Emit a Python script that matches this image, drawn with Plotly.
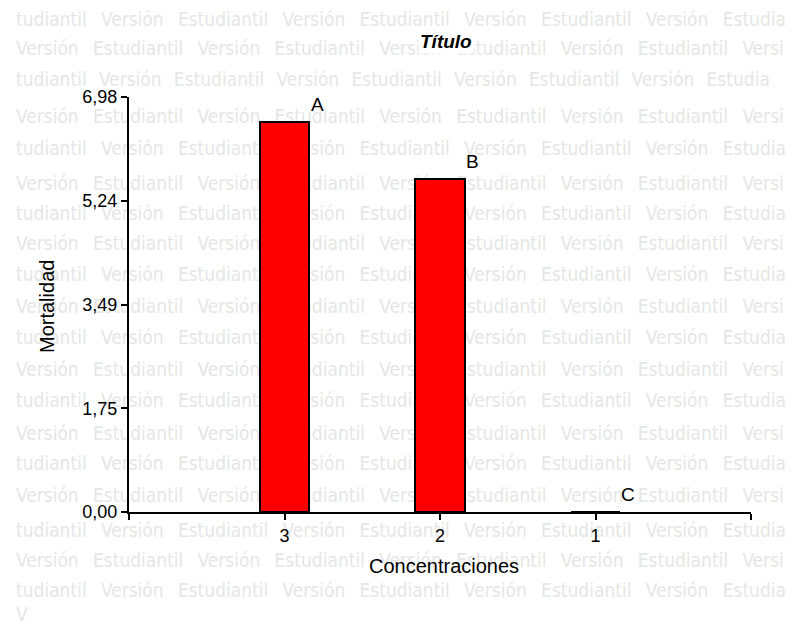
import plotly.graph_objects as go

# ---- data ----
categories = ["3", "2", "1"]
mortalidad = [6.56, 5.60, 0.0]
letters = ["A", "B", "C"]
y_max = 6.98
y_tick_labels = ["0,00", "1,75", "3,49", "5,24", "6,98"]

# ---- geometry (page has an 8px body margin) ----
W, H = 803, 625
OFF = 8
PL, PR, PT, PB = 129, 751, 97, 512          # plot area in page pixels
PW, PH = PR - PL, PB - PT
ML, MT = PL - OFF, PT - OFF
MR, MB = W - ML - PW, H - MT - PH


def px_x(px):
    return (px - PL) / PW


def px_y(py):
    return (PB - py) / PH


x_pos = [i + 1 for i in range(len(categories))]

fig = go.Figure()
fig.add_trace(go.Bar(
    x=x_pos, y=mortalidad, width=0.32,
    marker=dict(color="#ff0000", line=dict(color="black", width=2)),
    hoverinfo="skip",
))

# letters above bars
for xi, v, lab in zip(x_pos, mortalidad, letters):
    fig.add_annotation(x=xi + 0.21, y=v + 0.08, text=lab, showarrow=False,
                       xanchor="center", yanchor="bottom",
                       font=dict(family="Liberation Sans, Arial", size=19, color="black"))

# watermark rows (drawn below the bars)
NB = "\u00a0"
TH = "\u2009"
row_a = "tudiantil Versión Estudiantil Versión Estudiantil Versión Estudiantil Versión Estudia"
row_b = "Versión Estudiantil Versión Estudiantil Versión Estudiantil Versión Estudiantil Versi"
row_y = [18, 47, 78, 115, 147, 182, 212, 242, 273, 305, 336, 368,
         399, 432, 462, 494, 529, 559, 589, 613]
shapes = []
for i, ry in enumerate(row_y):
    txt = row_a if i % 2 == 0 else row_b
    gap = (NB + TH * 2) if i == 2 else (NB * 2 + TH)
    txt = txt.replace(" ", gap)
    if i == len(row_y) - 1:
        txt = "V"
    shapes.append(dict(
        type="rect", xref="paper", yref="paper",
        x0=px_x(13), x1=px_x(798), y0=px_y(ry + 12), y1=px_y(ry - 12),
        line=dict(width=0), fillcolor="rgba(0,0,0,0)", layer="below",
        label=dict(text=txt, textposition="middle left", padding=0,
                   font=dict(family="DejaVu Sans Condensed, DejaVu Sans", size=19, color="#e6e6e6")),
    ))

fig.update_layout(
    width=W, height=H,
    margin=dict(l=ML, r=MR, t=MT, b=MB, autoexpand=False),
    paper_bgcolor="white", plot_bgcolor="rgba(0,0,0,0)",
    showlegend=False,
    shapes=shapes,
    bargap=0,
)

fig.update_xaxes(
    range=[0, len(categories) + 1],
    tickmode="array",
    tickvals=list(range(len(categories) + 2)),
    ticktext=[""] + categories + [""],
    ticks="outside", ticklen=6, tickwidth=2, tickcolor="black",
    showline=True, linecolor="black", linewidth=2,
    showgrid=False, zeroline=False,
    tickfont=dict(family="Liberation Sans, Arial", size=18, color="black"),
)
fig.update_yaxes(
    range=[0, y_max],
    tickmode="array",
    tickvals=[y_max * i / (len(y_tick_labels) - 1) for i in range(len(y_tick_labels))],
    ticktext=y_tick_labels,
    ticks="outside", ticklen=6, tickwidth=2, tickcolor="black",
    showline=True, linecolor="black", linewidth=2,
    showgrid=False, zeroline=False,
    tickfont=dict(family="Liberation Sans, Arial", size=18, color="black"),
)

# titles
fig.add_annotation(xref="paper", yref="paper", x=px_x(446), y=px_y(42),
                   text="<b><i>Título</i></b>", showarrow=False,
                   xanchor="center", yanchor="middle", bgcolor="white",
                   font=dict(family="Liberation Sans, Arial", size=19, color="black"))
fig.add_annotation(xref="paper", yref="paper", x=px_x(444), y=px_y(566),
                   text="Concentraciones", showarrow=False,
                   xanchor="center", yanchor="middle",
                   font=dict(family="Liberation Sans, Arial", size=20, color="black"))
fig.add_annotation(xref="paper", yref="paper", x=px_x(47), y=px_y(307),
                   text="Mortalidad", showarrow=False, textangle=-90,
                   xanchor="center", yanchor="middle",
                   font=dict(family="Liberation Sans, Arial", size=20, color="black"))

fig.write_html("out.html")
